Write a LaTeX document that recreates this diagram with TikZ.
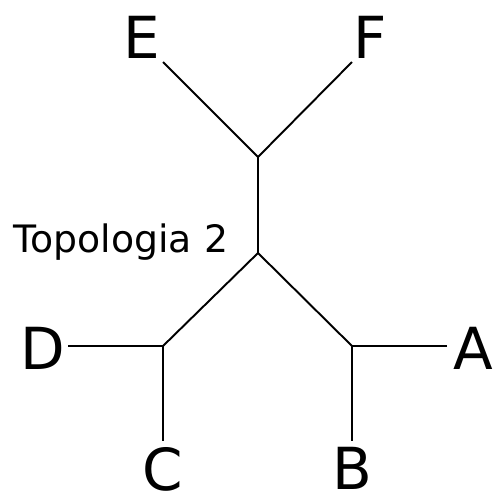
\documentclass[tikz,border=0pt]{standalone}
\usepackage{fontspec}
\setmainfont{DejaVu Sans}
\usetikzlibrary{positioning,calc}

\begin{document}
\begin{tikzpicture}[x=0.02cm,y=-0.02cm,
    every path/.style={line width=1.1pt},
    leaf/.style={inner sep=0pt,font=\fontsize{33}{40}\selectfont}]
    \useasboundingbox (0,0) rectangle (496,498);

    % inner vertices
    \coordinate (top) at (258,157);
    \coordinate (mid) at (258,253);
    \coordinate (left) at (163,346);
    \coordinate (right) at (352,346);

    % leaf ends
    \coordinate (e) at (163,62);
    \coordinate (f) at (352,62);
    \coordinate (d) at (68,346);
    \coordinate (a) at (447,346);
    \coordinate (c) at (163,441);
    \coordinate (b) at (352,441);

    % labels
    \node[leaf] at (142,37) (E) {E};
    \node[leaf] at (370,37) (F) {F};
    \node[leaf] at (43,348) (D) {D};
    \node[leaf] at (473,348) (A) {A};
    \node[leaf] at (163,469) (C) {C};
    \node[leaf] at (352,468) (B) {B};
    \node[inner sep=0pt,anchor=base,font=\fontsize{21.5}{26}\selectfont]
        at (121,252) (title) {Topologia 2};

    % connections
    \draw (e) -- (top) -- (f);
    \draw (top) -- (mid);
    \draw (left) -- (mid) -- (right);
    \draw (d) -- (left) -- (c);
    \draw (a) -- (right) -- (b);
\end{tikzpicture}
\end{document}
